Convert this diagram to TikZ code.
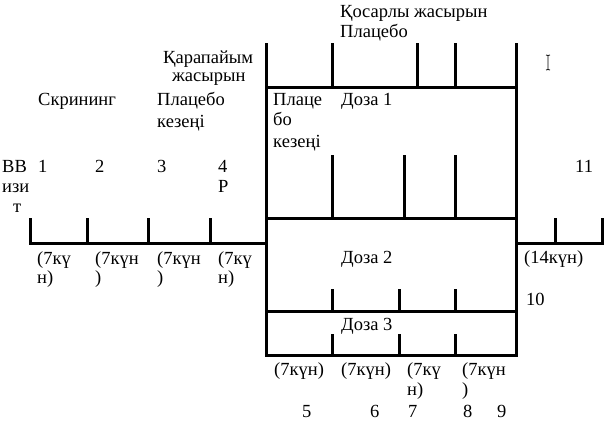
\documentclass[tikz,border=0pt]{standalone}
\usepackage{fontspec}
\setmainfont{Liberation Serif}
\begin{document}
\begin{tikzpicture}[x=1pt,y=-1pt,
  ln/.style={line width=3pt},
  lbl/.style={anchor=base west,inner sep=0pt,font=\fontsize{18.5}{20}\selectfont}]
\useasboundingbox (0,0) rectangle (604,423);
% main frame
\draw[ln] (266,43) -- (266,355) -- (516,355) -- (516,43);
\draw[ln] (266,87) -- (516,87);
\foreach \x in {332,417,455} \draw[ln] (\x,43) -- (\x,87);
\draw[ln] (266,218) -- (516,218);
\foreach \x in {332,404,455} \draw[ln] (\x,155) -- (\x,218);
\draw[ln] (266,311) -- (516,311);
\foreach \x in {332,399,455} \draw[ln] (\x,289) -- (\x,311);
\foreach \x in {332,399,455} \draw[ln] (\x,334) -- (\x,355);
% screening line
\draw[ln] (30,218) -- (30,243) -- (266,243);
\foreach \x in {87,148,210} \draw[ln] (\x,218) -- (\x,243);
% follow-up line
\draw[ln] (516,243) -- (602,243) -- (602,218);
\draw[ln] (555,218) -- (555,243);
% cursor
\draw[line width=0.8pt] (546,55) -- (548,55.5) -- (550,55) (548,55.5) -- (548,69.5) (546,70) -- (548,69.5) -- (550,70);
% labels
\node[lbl] (t1) at (340,17) {Қосарлы жасырын};
\node[lbl] (t2) at (340,37) {Плацебо};
\node[lbl] (t3) at (163,63) {Қарапайым};
\node[lbl] (t4) at (172,81) {жасырын};
\node[lbl] (t5) at (38,105) {Скрининг};
\node[lbl] (t6) at (157,105) {Плацебо};
\node[lbl] (t7) at (157,127) {кезеңі};
\node[lbl] (t8) at (273,105) {Плаце};
\node[lbl] (t9) at (273,125) {бо};
\node[lbl] (t10) at (273,147) {кезеңі};
\node[lbl] (t11) at (341,105) {Доза 1};
\node[lbl] (v0a) at (2,172) {ВВ};
\node[lbl] (v0b) at (2,192) {изи};
\node[lbl] (v0c) at (13,212) {т};
\node[lbl] (v1) at (38,172) {1};
\node[lbl] (v2) at (95,172) {2};
\node[lbl] (v3) at (157,172) {3};
\node[lbl] (v4) at (218,172) {4};
\node[lbl] (v4r) at (218,192) {Р};
\node[lbl] (v11) at (575,172) {11};
\node[lbl] (d1a) at (37,264) {(7кү};
\node[lbl] (d1b) at (37,283) {н)};
\node[lbl] (d2a) at (95,264) {(7күн};
\node[lbl] (d2b) at (95,283) {)};
\node[lbl] (d3a) at (157,264) {(7күн};
\node[lbl] (d3b) at (157,283) {)};
\node[lbl] (d4a) at (218,264) {(7кү};
\node[lbl] (d4b) at (218,283) {н)};
\node[lbl] (dz2) at (341,263) {Доза 2};
\node[lbl] (d14) at (524,263) {(14күн)};
\node[lbl] (v10) at (526,305) {10};
\node[lbl] (dz3) at (341,330) {Доза 3};
\node[lbl] (e1) at (274,375) {(7күн)};
\node[lbl] (e2) at (341,375) {(7күн)};
\node[lbl] (e3a) at (407,375) {(7кү};
\node[lbl] (e3b) at (407,395) {н)};
\node[lbl] (e4a) at (462,375) {(7күн};
\node[lbl] (e4b) at (462,395) {)};
\node[lbl] (v5) at (302,417) {5};
\node[lbl] (v6) at (370,417) {6};
\node[lbl] (v7) at (408,417) {7};
\node[lbl] (v8) at (463,417) {8};
\node[lbl] (v9) at (497,417) {9};
\end{tikzpicture}
\end{document}
